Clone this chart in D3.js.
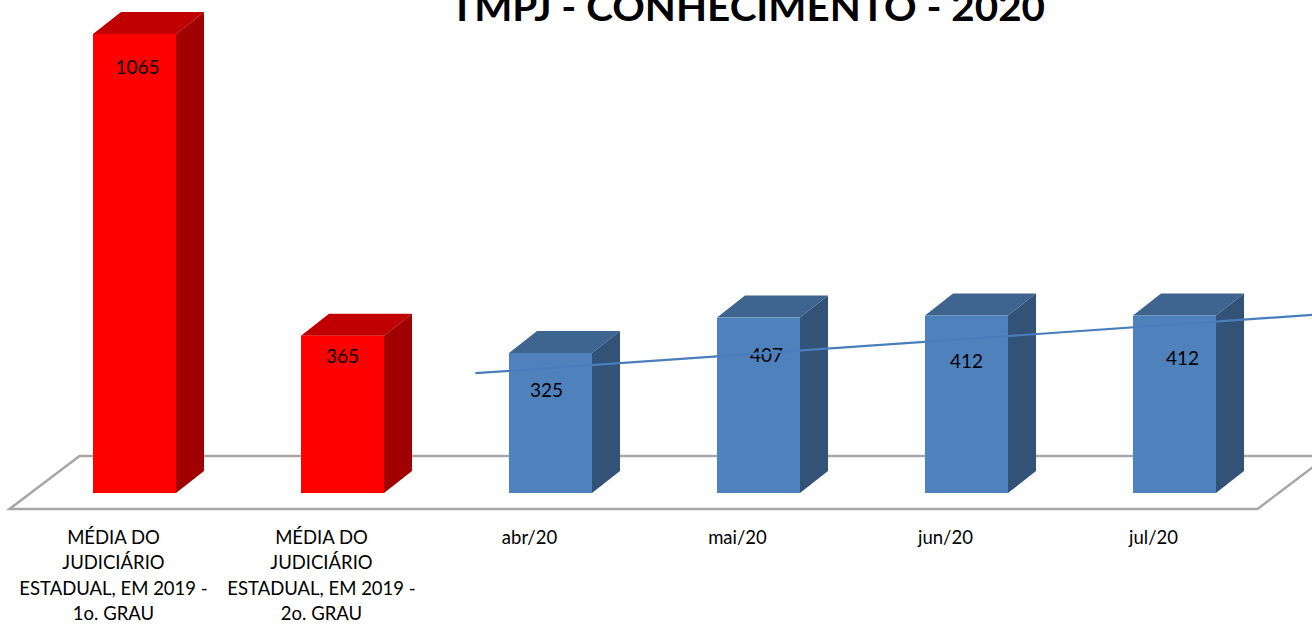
<!DOCTYPE html>
<html lang="pt">
<head>
    <meta charset="UTF-8">
    <title>TMPJ - CONHECIMENTO - 2020</title>
    <script src="https://d3js.org/d3.v7.min.js"></script>
    <style>
        body { margin: 0; background: #fff; }
        text { font-family: Lato, "Open Sans", sans-serif; fill: #000; }
        .floor { fill: #fff; stroke: #a6a6a6; stroke-width: 2.5; }
        .trend { fill: none; stroke: #4a7ebb; stroke-width: 2.2; }
    </style>
</head>
<body>
<script>
    const width = 1312;
    const height = 625;

    // data
    const categories = [
        "MÉDIA DO JUDICIÁRIO ESTADUAL, EM 2019 - 1o. GRAU",
        "MÉDIA DO JUDICIÁRIO ESTADUAL, EM 2019 - 2o. GRAU",
        "abr/20", "mai/20", "jun/20", "jul/20"
    ];
    const labelLines = [
        ["MÉDIA DO", "JUDICIÁRIO", "ESTADUAL, EM 2019 -", "1o. GRAU"],
        ["MÉDIA DO", "JUDICIÁRIO", "ESTADUAL, EM 2019 -", "2o. GRAU"],
        ["abr/20"], ["mai/20"], ["jun/20"], ["jul/20"]
    ];
    const values = [1065, 365, 325, 407, 412, 412];
    const isReference = [true, true, false, false, false, false];
    // hand drawn trend line over the monthly bars (category index, value)
    const trendPoints = [[1.74, 278], [5.9, 418]];

    const palette = {
        red:  { front: "#ff0000", top: "#c00000", side: "#a00000" },
        blue: { front: "#4f81bd", top: "#3d6590", side: "#335277" }
    };

    const depthX = 28, depthY = 22;
    const faceW = 83;

    const svg = d3.select("body").append("svg")
        .attr("width", width).attr("height", height);

    const x = d3.scaleBand()
        .domain(categories)
        .range([9.5, 9.5 + 208 * categories.length])
        .padding(0);

    const y = d3.scaleLinear()
        .domain([0, 1065])
        .range([493, 34]);

    const xi = d3.scaleLinear()
        .domain([0, 1])
        .range([x(categories[0]) + x.bandwidth() / 2, x(categories[1]) + x.bandwidth() / 2]);

    // floor
    const fx0 = x.range()[0], fx1 = x.range()[1];
    const fy = 509, fdx = 70, fdy = 53;
    svg.append("polygon")
        .attr("class", "floor")
        .attr("points", [[fx0, fy], [fx1, fy], [fx1 + fdx, fy - fdy], [fx0 + fdx, fy - fdy]].join(" "));

    // title (cropped at the top edge, as in the original)
    svg.append("text")
        .attr("x", 747.5).attr("y", 20.5)
        .attr("text-anchor", "middle")
        .attr("font-size", 38).attr("font-weight", "bold")
        .attr("textLength", 595).attr("lengthAdjust", "spacingAndGlyphs")
        .text("TMPJ - CONHECIMENTO - 2020");

    // bars
    const bars = svg.selectAll("g.bar")
        .data(values.map((v, i) => ({ v, i, cat: categories[i], c: isReference[i] ? palette.red : palette.blue })))
        .join("g").attr("class", "bar");

    bars.each(function(d) {
        const g = d3.select(this);
        const x0 = x(d.cat) + 83.5, x1 = x0 + faceW;
        const yt = y(d.v), yb = y(0);
        g.append("polygon")
            .attr("fill", d.c.top)
            .attr("points", [[x0, yt], [x0 + depthX, yt - depthY], [x1 + depthX, yt - depthY], [x1, yt]].join(" "));
        g.append("polygon")
            .attr("fill", d.c.side)
            .attr("points", [[x1, yt], [x1 + depthX, yt - depthY], [x1 + depthX, yb - depthY], [x1, yb]].join(" "));
        g.append("rect")
            .attr("fill", d.c.front)
            .attr("x", x0).attr("y", yt)
            .attr("width", faceW).attr("height", yb - yt);
    });

    // value labels
    const labelNudge = [[3, 33], [0, 21], [-4, 38], [8, 38], [0, 46], [8, 43]];
    bars.append("text")
        .attr("x", d => x(d.cat) + 83.5 + faceW / 2 + labelNudge[d.i][0])
        .attr("y", d => y(d.v) + labelNudge[d.i][1] + 6.5)
        .attr("text-anchor", "middle")
        .attr("font-size", 19)
        .text(d => d.v);

    // trend line
    svg.append("path")
        .attr("class", "trend")
        .attr("d", d3.line().x(d => xi(d[0])).y(d => y(d[1]))(trendPoints));

    // category labels
    const cat = svg.selectAll("text.cat")
        .data(labelLines)
        .join("text").attr("class", "cat")
        .attr("text-anchor", "middle")
        .attr("font-size", 18.5)
        .attr("x", (d, i) => x(categories[i]) + x.bandwidth() / 2)
        .attr("y", 543.5);
    cat.selectAll("tspan")
        .data(d => d)
        .join("tspan")
        .attr("x", function() { return this.parentNode.getAttribute("x"); })
        .attr("dy", (d, i) => i === 0 ? 0 : 25.5)
        .text(d => d);
</script>
</body>
</html>
